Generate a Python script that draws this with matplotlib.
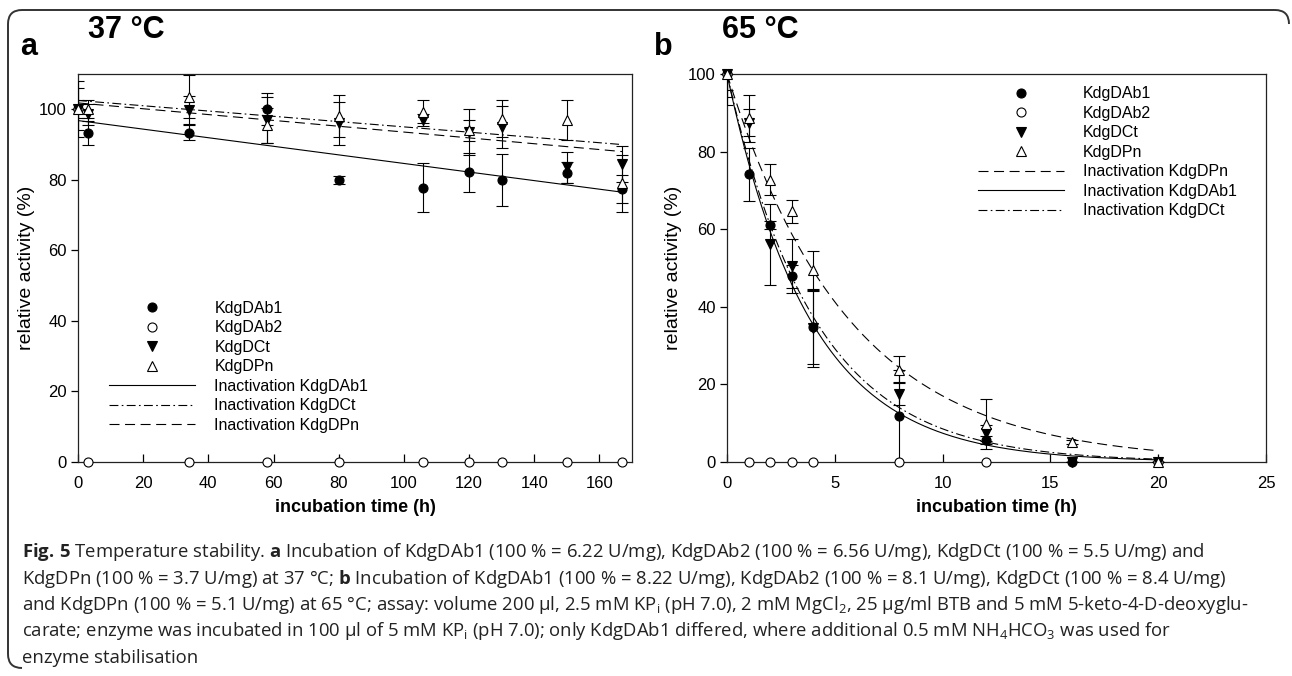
import numpy as np
import matplotlib
matplotlib.use("Agg")
import matplotlib.pyplot as plt
from matplotlib.path import Path
from matplotlib.patches import PathPatch

NARROW = ['Liberation Sans Narrow', 'Liberation Sans', 'DejaVu Sans']
plt.rcParams['font.family'] = NARROW
plt.rcParams['mathtext.fontset'] = 'custom'
plt.rcParams['mathtext.rm'] = 'Open Sans'
plt.rcParams['mathtext.bf'] = 'Open Sans:bold'
plt.rcParams['mathtext.it'] = 'Open Sans:italic'

# ---- panel a: 37 C ----
t_a = [0, 3, 34, 58, 80, 106, 120, 130, 150, 167]
ab1_a = [100, 93.3, 93.4, 100, 80, 77.8, 82.1, 80, 82, 77.5]
ab1_a_err = [8, 3.5, 2.2, 4.5, 1.2, 7, 5.5, 7.3, 3, 4]
ab2_a = [100, 0, 0, 0, 0, 0, 0, 0, 0, 0]
ct_a = [100, 98.6, 99.8, 97, 96, 97, 93.5, 94.9, 83.5, 84.5]
ct_a_err = [6, 3, 4, 6.5, 6, 1.8, 6.5, 6, 4.5, 5]
pn_a = [100, 100, 103.6, 95.5, 98, 99.3, 94, 97.3, 97, 79]
pn_a_err = [2.5, 2.5, 6, 5, 6, 3.3, 3, 5.3, 5.6, 8]
# linear inactivation fits (intercept, slope per h)
fit_a = {'KdgDAb1': (96.8, -0.1216), 'KdgDCt': (102.5, -0.0749), 'KdgDPn': (101.8, -0.0826)}

# ---- panel b: 65 C ----
t_b = [0, 1, 2, 3, 4, 8, 12, 16, 20]
ab1_b = [100, 74.1, 61.1, 47.9, 34.7, 11.8, 5.6, 0, 0]
ab1_b_err = [8, 6.8, 1, 3, 9.5, 12, 1, 0, 0]
ab2_b = [100, 0, 0, 0, 0, 0, 0, np.nan, 0]
ct_b = [100, 87.4, 56.1, 50.5, 34.5, 17.6, 7.5, 0, 0]
ct_b_err = [6, 3.5, 10.5, 7, 10, 3, 2, 0, 0]
pn_b = [100, 88.6, 72.8, 64.6, 49.4, 23.8, 9.8, 5.2, 0]
pn_b_err = [4, 6, 4, 3, 5, 3.5, 6.5, 0.5, 0]
# exponential inactivation fits (A, k per h)
fit_b = {'KdgDAb1': (100, 0.26), 'KdgDCt': (100, 0.246), 'KdgDPn': (100, 0.177)}

styles = {'KdgDAb1': '-', 'KdgDCt': (0, (8, 3, 1.5, 3)), 'KdgDPn': (0, (9, 5))}

W, H = 1292, 676
fig = plt.figure(figsize=(W / 100, H / 100), dpi=100)


def box(l, t, r, b):
    return [l / W, 1 - b / H, (r - l) / W, (b - t) / H]


ax_a = fig.add_axes(box(78, 74, 632, 462))
ax_b = fig.add_axes(box(727, 74, 1266, 462))


def scatter_series(ax, t, y, err, marker, face, ms, label):
    if err is not None:
        ax.errorbar(t, y, yerr=err, fmt='none', ecolor='black', elinewidth=0.8,
                    capsize=4, capthick=0.8, zorder=3)
    ax.plot(t, y, linestyle='none', marker=marker, mfc=face, mec='black',
            mew=0.8, ms=ms, label=label, zorder=4, clip_on=False)


def draw_points(ax, t, ab1, ab1e, ab2, ct, cte, pn, pne):
    scatter_series(ax, t, ab1, ab1e, 'o', 'black', 6.5, 'KdgDAb1')
    scatter_series(ax, t, ab2, None, 'o', 'white', 6.5, 'KdgDAb2')
    scatter_series(ax, t, ct, cte, 'v', 'black', 6.5, 'KdgDCt')
    scatter_series(ax, t, pn, pne, '^', 'white', 6.5, 'KdgDPn')


draw_points(ax_a, t_a, ab1_a, ab1_a_err, ab2_a, ct_a, ct_a_err, pn_a, pn_a_err)
draw_points(ax_b, t_b, ab1_b, ab1_b_err, ab2_b, ct_b, ct_b_err, pn_b, pn_b_err)

ta = np.linspace(0, max(t_a), 200)
for name in ['KdgDAb1', 'KdgDCt', 'KdgDPn']:
    b0, m = fit_a[name]
    ax_a.plot(ta, b0 + m * ta, color='black', lw=0.8, linestyle=styles[name],
              label='Inactivation ' + name, zorder=2)

tb = np.linspace(0, max(t_b), 200)
for name in ['KdgDPn', 'KdgDAb1', 'KdgDCt']:
    A, k = fit_b[name]
    ax_b.plot(tb, A * np.exp(-k * tb), color='black', lw=0.8, linestyle=styles[name],
              label='Inactivation ' + name, zorder=2)

ax_a.set_xlim(0, 170)
ax_a.set_ylim(0, 110)
ax_a.set_xticks(range(0, 161, 20))
ax_a.set_yticks(range(0, 101, 20))
ax_b.set_xlim(0, 25)
ax_b.set_ylim(0, 100)
ax_b.set_xticks(range(0, 26, 5))
ax_b.set_yticks(range(0, 101, 20))

for ax in (ax_a, ax_b):
    for s in ax.spines.values():
        s.set_linewidth(0.9)
        s.set_color('#222222')
    ax.tick_params(axis='x', direction='in', length=6, width=0.9, pad=10, labelsize=12)
    ax.tick_params(axis='y', direction='out', length=5, width=0.9, pad=3, labelsize=12)
    ax.set_xlabel('incubation time (h)', fontsize=13, fontweight='bold')
    ax.set_ylabel('relative activity (%)', fontsize=14, family='Liberation Sans')
    ax.xaxis.set_label_coords(0.5, -0.095)

ax_a.yaxis.set_label_coords(-0.078, 0.5)
ax_b.yaxis.set_label_coords(-0.083, 0.5)

leg_kw = dict(frameon=False, fontsize=11.5, handlelength=5.4, handletextpad=1.2,
              labelspacing=0.28, borderpad=0, borderaxespad=0)
h, l = ax_a.get_legend_handles_labels()
ax_a.legend(h, l, loc='upper left', bbox_to_anchor=(0.056, 0.415), **leg_kw)
h, l = ax_b.get_legend_handles_labels()
ax_b.legend(h, l, loc='upper left', bbox_to_anchor=(0.465, 0.968), **leg_kw)

# panel letters and temperatures
title_kw = dict(fontsize=22, fontweight='bold', va='center', family='Liberation Sans')
fig.text(20 / W, 1 - 47 / H, 'a', **title_kw)
fig.text(88 / W, 1 - 30 / H, '37 °C', **title_kw)
fig.text(654 / W, 1 - 47 / H, 'b', **title_kw)
fig.text(722 / W, 1 - 30 / H, '65 °C', **title_kw)

# caption
caption = [
    r'$\mathbf{Fig.}\,\mathbf{5}$ Temperature stability. $\mathbf{a}$ Incubation of KdgDAb1 (100 % = 6.22 U/mg), '
    r'KdgDAb2 (100 % = 6.56 U/mg), KdgDCt (100 % = 5.5 U/mg) and',
    r'KdgDPn (100 % = 3.7 U/mg) at 37 °C; $\mathbf{b}$ Incubation of KdgDAb1 (100 % = 8.22 U/mg), '
    r'KdgDAb2 (100 % = 8.1 U/mg), KdgDCt (100 % = 8.4 U/mg)',
    r'and KdgDPn (100 % = 5.1 U/mg) at 65 °C; assay: volume 200 µl, 2.5 mM KP$_\mathrm{i}$ (pH 7.0), '
    r'2 mM MgCl$_\mathrm{2}$, 25 µg/ml BTB and 5 mM 5-keto-4-D-deoxyglu-',
    r'carate; enzyme was incubated in 100 µl of 5 mM KP$_\mathrm{i}$ (pH 7.0); only KdgDAb1 differed, '
    r'where additional 0.5 mM NH$_\mathrm{4}$HCO$_\mathrm{3}$ was used for',
    r'enzyme stabilisation',
]
for i, line in enumerate(caption):
    fig.text(22 / W, 1 - (552 + 26.5 * i) / H, line, fontsize=13.3, va='center',
             family=['Open Sans', 'DejaVu Sans'], color='#222222')

# page frame (top and left edges with rounded corners)
r = 14
pts = [(1289, 10 + r), (1289, 10), (1289 - r, 10), (8 + r, 10), (8, 10), (8, 10 + r),
       (8, 668 - r), (8, 668), (8 + r, 668)]
codes = [Path.MOVETO, Path.CURVE3, Path.CURVE3, Path.LINETO, Path.CURVE3, Path.CURVE3,
         Path.LINETO, Path.CURVE3, Path.CURVE3]
verts = [(x / W, 1 - y / H) for x, y in pts]
fig.add_artist(PathPatch(Path(verts, codes), fill=False, lw=1.4, ec='#333333',
                         transform=fig.transFigure))

fig.savefig('out.png', dpi=100)
